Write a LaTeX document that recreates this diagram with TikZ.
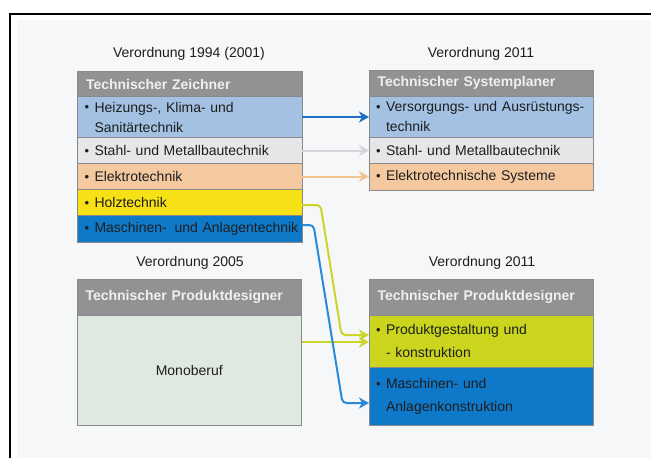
\documentclass[tikz,border=0pt]{standalone}
\usepackage{fontspec}
\setmainfont{Liberation Sans}
\usetikzlibrary{arrows.meta}

% fills of the boxes
\definecolor{pagebg}{HTML}{F6F7F9}
\definecolor{hdrgray}{HTML}{929294}
\definecolor{hdrtext}{HTML}{F0F0F0}
\definecolor{boxline}{HTML}{8A8A8C}
\definecolor{txt}{HTML}{1E1E1E}
\definecolor{rowblue}{HTML}{A3C1E3}
\definecolor{rowgray}{HTML}{E6E6E8}
\definecolor{rowpeach}{HTML}{F5C9A0}
\definecolor{rowyellow}{HTML}{F6E016}
\definecolor{rowdblue}{HTML}{0F79C9}
\definecolor{rowmono}{HTML}{DFE9E2}
\definecolor{rowlime}{HTML}{CBD51E}
% connector colours
\definecolor{arrblue}{HTML}{1F6FC5}
\definecolor{arrgray}{HTML}{D4D6DA}
\definecolor{arrpeach}{HTML}{F2C290}
\definecolor{arrlime}{HTML}{CCD62A}
\definecolor{arrsky}{HTML}{2B8AD6}

\newcommand\bul{\makebox[10pt][l]{\raisebox{0.05ex}{\fontsize{13}{13}\selectfont •}}}

\begin{document}
\begin{tikzpicture}[x=1pt,y=-1pt,
  base/.style={font=\fontsize{14}{20}\selectfont},
  row/.style={base, draw=boxline, line width=0.6pt, anchor=north west,
    outer sep=0pt, inner xsep=7pt, inner ysep=0pt,
    text width=210.5pt, align=left, text=txt},
  hdr/.style={row, fill=hdrgray, text=hdrtext,
    font=\fontsize{14}{20}\selectfont\bfseries, inner xsep=8.5pt, text width=207.5pt},
  title/.style={base, text=txt, inner sep=0pt},
  boxedge/.style={draw=boxline, line width=1pt},
  conn/.style={line width=2pt, rounded corners=4pt,
    -{Stealth[length=10pt,width=11pt,inset=3pt]}},
]
\useasboundingbox (0,0) rectangle (651,458);
\fill[pagebg] (17,20) rectangle (651,458);
\draw[black, line width=2pt] (10,458) -- (10,14.3) -- (651,14.3);

% --- Verordnung 1994 (2001)
\node[title] (t1) at (189,54) {Verordnung 1994 (2001)};
\node[hdr, minimum height=25pt] (tlh) at (77.5,71.5) {Technischer Zeichner};
\node[row, fill=rowblue, minimum height=41pt] (tl1) at (77.5,96.5)
  {\bul Heizungs-, Klima- und\\\hspace*{10pt}Sanitärtechnik};
\node[row, fill=rowgray, minimum height=26pt] (tl2) at (77.5,137.5)
  {\bul Stahl- und Metallbautechnik};
\node[row, fill=rowpeach, minimum height=26pt] (tl3) at (77.5,163.5)
  {\bul Elektrotechnik};
\node[row, fill=rowyellow, minimum height=26pt] (tl4) at (77.5,189.5)
  {\bul Holztechnik};
\node[row, fill=rowdblue, minimum height=26.5pt] (tl5) at (77.5,215.5)
  {\bul\mbox{Maschinen-\hspace{3pt} und Anlagentechnik}};
\draw[boxedge] (tlh.north west) rectangle (tl5.south east);

% --- Verordnung 2011, Systemplaner
\node[title] (t2) at (481,54) {Verordnung 2011};
\node[hdr, minimum height=26pt] (trh) at (369,70) {Technischer Systemplaner};
\node[row, fill=rowblue, minimum height=41.5pt] (tr1) at (369,96)
  {\bul\mbox{Versorgungs- und Ausrüstungs-}\\\hspace*{10pt}technik};
\node[row, fill=rowgray, minimum height=26pt] (tr2) at (369,137.5)
  {\bul Stahl- und Metallbautechnik};
\node[row, fill=rowpeach, minimum height=26.5pt] (tr3) at (369,163.5)
  {\bul Elektrotechnische Systeme};
\draw[boxedge] (trh.north west) rectangle (tr3.south east);

% --- Verordnung 2005
\node[title] (t3) at (190,263) {Verordnung 2005};
\node[hdr, minimum height=36pt] (blh) at (77,279) {Technischer Produktdesigner};
\node[row, fill=rowmono, minimum height=110pt, align=center] (bl1) at (77,315)
  {Monoberuf};
\draw[boxedge] (blh.north west) rectangle (bl1.south east);

% --- Verordnung 2011, Produktdesigner
\node[title] (t4) at (482,263) {Verordnung 2011};
\node[hdr, minimum height=36pt] (brh) at (369,279) {Technischer Produktdesigner};
\node[row, fill=rowlime, minimum height=52.5pt, font=\fontsize{14}{23}\selectfont] (br1) at (369,315)
  {\bul Produktgestaltung und\\\hspace*{10pt}- konstruktion};
\node[row, fill=rowdblue, minimum height=57.5pt, font=\fontsize{14}{23}\selectfont] (br2) at (369,367.5)
  {\bul Maschinen- und\\\hspace*{10pt}Anlagenkonstruktion};
\draw[boxedge] (brh.north west) rectangle (br2.south east);

% --- connectors
\coordinate (ya) at (320.5,205);
\coordinate (yb) at (341.5,335);
\coordinate (mo) at (0,342);
\coordinate (ba) at (313.5,225);
\coordinate (bb) at (342.5,403);

\draw[conn, arrblue] (tl1.east) -- (tl1.east -| tr1.west);
\draw[conn, arrgray] (tl2.east) -- (tl2.east -| tr2.west);
\draw[conn, arrpeach] (tl3.east) -- (tl3.east -| tr3.west);
\draw[conn, arrlime] (tl4.east |- ya) -- (ya) -- (yb) -- (br1.west |- yb);
\draw[conn, arrlime] (bl1.east |- mo) -- (br1.west |- mo);
\draw[conn, arrsky] (tl5.east |- ba) -- (ba) -- (bb) -- (br2.west |- bb);
\end{tikzpicture}
\end{document}
